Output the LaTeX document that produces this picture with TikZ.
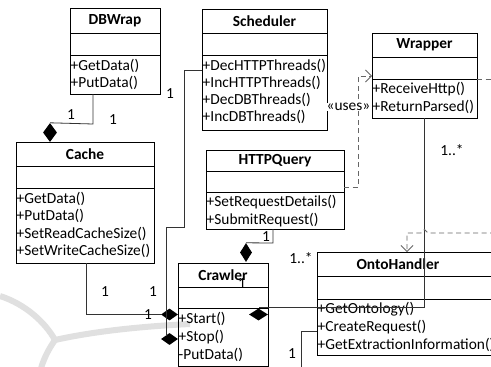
\documentclass[tikz,border=0pt]{standalone}
\usepackage{fontspec}
\setmainfont{Carlito}
\usetikzlibrary{shapes.geometric,arrows.meta}
\tikzset{
  clsbox/.style={draw=black,line width=0.8pt,inner sep=0pt,anchor=north west},
  clsline/.style={draw=black,line width=0.8pt},
  ttl/.style={font=\fontsize{15.4}{18}\selectfont\bfseries,inner sep=0pt},
  meth/.style={font=\fontsize{15.4}{18}\selectfont,inner sep=0.5pt,anchor=west},
  lbl/.style={font=\fontsize{15.4}{18}\selectfont,inner sep=0pt},
  conn/.style={draw=black!80,line width=0.8pt},
  dep/.style={draw=black!60,line width=0.8pt,dash pattern=on 5pt off 3.5pt},
  openhead/.style={-{Straight Barb[length=6pt,width=12pt]}},
  comp/.style={diamond,fill=black,draw=none,inner sep=0pt,aspect=1},
  wmark/.style={draw=black!12,line width=6pt},
}
\newcommand\umlcls[9]{%
  \node[clsbox,minimum width={(#4-#2)*1pt},minimum height={(#5-#3)*1pt}] (#1) at (#2,#3) {};
  \draw[clsline] (#2,#6) -- (#4,#6);
  \draw[clsline] (#2,#7) -- (#4,#7);
  \node[ttl] (#1t) at (#9,{(#3+#6)/2}) {#8};
}
\begin{document}
\begin{tikzpicture}[x=1pt,y=-1pt]
\useasboundingbox (0,0) rectangle (491,367);
\clip (0,0) rectangle (491,367);
\fill[white] (0,0) rectangle (491,367);
% watermark
\draw[wmark] (0,296) .. controls (25,304) and (45,322) .. (55,340);
\draw[wmark] (55,340) .. controls (100,330) and (150,326) .. (190,324);
\draw[wmark] (55,340) .. controls (48,350) and (43,360) .. (40,372);

% classes
\umlcls{dbwrap}{70}{8}{160}{94}{33}{55}{DBWrap}{115}
\foreach \m [count=\i from 0] in {+GetData(),+PutData()}
  \node[meth] (dbwrapm\i) at (70,{55+10.5+17.5*\i}) {\m};

\umlcls{sched}{202}{9}{327}{130}{33}{55}{Scheduler}{264.5}
\foreach \m [count=\i from 0] in {+DecHTTPThreads(),+IncHTTPThreads(),+DecDBThreads(),+IncDBThreads()}
  \node[meth] (schedm\i) at (202,{55+10.5+17.2*\i}) {\m};

\umlcls{wrap}{372}{33}{477}{118}{57}{79}{Wrapper}{424.5}
\foreach \m [count=\i from 0] in {+ReceiveHttp(),+ReturnParsed()}
  \node[meth] (wrapm\i) at (372,{79+10.5+17.5*\i}) {\m};

\umlcls{cache}{16}{142}{154}{263}{166}{188}{Cache}{85}
\foreach \m [count=\i from 0] in {+GetData(),+PutData(),+SetReadCacheSize(),+SetWriteCacheSize()}
  \node[meth] (cachem\i) at (16,{188+10.5+17.5*\i}) {\m};

\umlcls{http}{206}{150}{344}{229}{171}{192}{HTTPQuery}{275}
\foreach \m [count=\i from 0] in {+SetRequestDetails(),+SubmitRequest()}
  \node[meth] (httpm\i) at (206,{192+10.5+17.5*\i}) {\m};

\umlcls{crawl}{178}{263}{268}{366}{287}{308}{Crawler}{223}
\foreach \m [count=\i from 0] in {+Start(),+Stop(),-PutData()}
  \node[meth] (crawlm\i) at (178,{308+10.5+18.2*\i}) {\m};

\umlcls{onto}{317}{252}{497}{355}{276}{299}{OntoHandler}{398}
\foreach \m [count=\i from 0] in {+GetOntology(),+CreateRequest(),+GetExtractionInformation()}
  \node[meth] (ontom\i) at (317,{299+10.5+17.5*\i}) {\m};

% composition diamonds
\node[comp,minimum width=14pt,minimum height=19pt] (dA) at (50,132.5) {};
\node[comp,minimum width=17pt,minimum height=12pt] (dB) at (169.5,314.5) {};
\node[comp,minimum width=17pt,minimum height=12pt] (dC) at (169.5,339) {};
\node[comp,minimum width=12pt,minimum height=19pt] (dD) at (246,252.5) {};
\node[comp,minimum width=19pt,minimum height=12pt] (dE) at (258.5,314.5) {};

% connectors
\coordinate (dbw) at (93,94);
\draw[conn] (dbw) -- (93,124) -- (dA.north);
\coordinate (cab) at (86,263);
\draw[conn] (cab) |- (dB.west);
\coordinate (sch) at (202,70);
\draw[conn] (sch) -- (184,70) -- (184,227) -- (166,227) -- (166,335.5);
\coordinate (htb) at (273,229);
\draw[conn] (htb) -- (273,243) -- (dD.north);
\coordinate (wrb) at (424,118);
\draw[conn] (wrb) -- (424,307.5) -- (dE.north |- 0,307.5);
\coordinate (ont) at (317,331);
\coordinate (ontend) at (301,370);
\draw[conn] (ont) -- (301,331) -- (ontend);

% dependencies
\coordinate (htr) at (344,187);
\coordinate (wrl) at (372,76);
\draw[dep,openhead] (htr) -- (358,187) -- (358,76) -- (wrl);
\node[lbl,fill=white,inner sep=0.3pt] (uses) at (348.5,107) {«uses»};
\coordinate (wrr) at (477,79);
\draw[dep] (wrr) -- (495,79);
\coordinate (rt) at (495,233);
\coordinate (ontop) at (407,252);
\draw[dep,openhead] (rt) -- (428,233) -- (424.5,229.5) -- (421,233) -- (407,233) -- (ontop);

% multiplicities
\node[lbl] (m1) at (71,115) {1};
\node[lbl] (m2) at (113,120) {1};
\node[lbl] (m3) at (170,94) {1};
\node[lbl] (m4) at (105,292) {1};
\node[lbl] (m5) at (153,292) {1};
\node[lbl] (m6) at (148,315) {1};
\node[lbl] (m7) at (266,237) {1};
\node[lbl] (m8) at (242,284) {1};
\node[lbl] (m9) at (452,150) {1..*};
\node[lbl] (m10) at (301,258) {1..*};
\node[lbl] (m11) at (292,354) {1};
\end{tikzpicture}
\end{document}
